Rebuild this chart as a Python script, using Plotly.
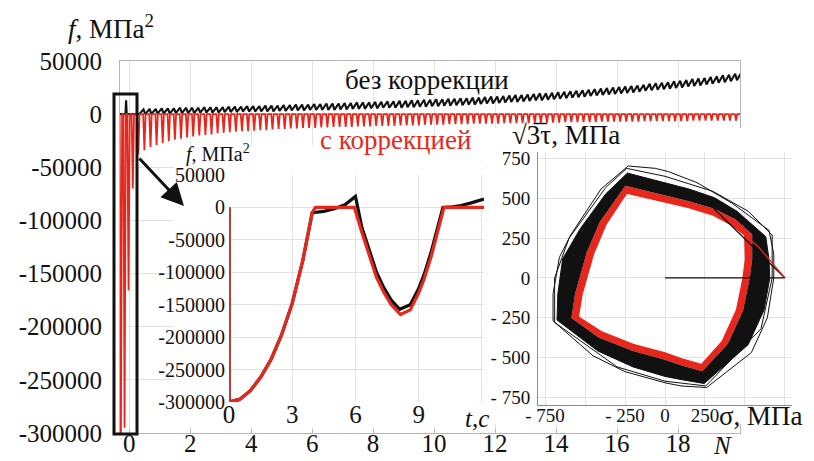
import plotly.graph_objects as go

W, H = 814, 461
FONT = "Liberation Serif, Times New Roman, serif"
BLACK = "#111111"
RED = "#e8271c"


def px_x(p):
    return p / W


def px_y(p):
    return 1 - p / H


# ---------------- main chart data (f vs N) ----------------
main_y_ticks = [50000, 0, -50000, -100000, -150000, -200000, -250000, -300000]
main_y_text = ["50000", "0", "-50000", "-100000", "-150000", "-200000", "-250000", "-300000"]
main_x_ticks = [0, 2, 4, 6, 8, 10, 12, 14, 16, 18]
main_x_text = ["0", "2", "4", "6", "8", "10", "12", "14", "16", "18"]

# first (framed) spikes of the corrected curve
first_spike_N = [-0.27, -0.15, -0.02, 0.12]
first_spike_f = [-300000, -295000, -166000, -70000]
# first part of the uncorrected curve
first_black_N = [-0.3, -0.12, -0.1, -0.08, 0.25]
first_black_f = [0, 0, 13000, 0, 0]

# one tooth per half-cycle
tooth_N = [round(0.3 + 0.2 * i, 1) for i in range(99)]
red_depth = [
    -38000, -34000, -31000, -29000, -27000, -25500, -24000, -23000, -22000, -21000,
    -20000, -19500, -19000, -18000, -17500, -17000, -16500, -16000, -16000, -15500,
    -15000, -15000, -14500, -14000, -14000, -13500, -13500, -13000, -13000, -13000,
    -12500, -12500, -12000, -12000, -12000, -12000, -11500, -11500, -11500, -11000,
    -11000, -11000, -11000, -10500, -10500, -10500, -10500, -10000, -10000, -10000,
    -10000, -9500, -9500, -9500, -9500, -9000, -9000, -9000, -9000, -9000,
    -8500, -8500, -8500, -8500, -8500, -8000, -8000, -8000, -8000, -8000,
    -7500, -7500, -7500, -7500, -7500, -7500, -7000, -7000, -7000, -7000,
    -7000, -7000, -7000, -6500, -6500, -6500, -6500, -6500, -6500, -6500,
    -6500, -6000, -6000, -6000, -6000, -6000, -6000, -6000, -6000,
]
black_peak = [
    4500, 5000, 5000, 5500, 5500, 5500, 6000, 6000, 6000, 6000,
    6500, 6500, 6500, 6500, 7000, 7000, 7000, 7500, 7500, 7500,
    8000, 8000, 8000, 8500, 8500, 9000, 9000, 9000, 9500, 9500,
    10000, 10000, 10000, 10500, 10500, 11000, 11000, 11000, 11500, 11500,
    12000, 12000, 12500, 12500, 13000, 13000, 13500, 13500, 14000, 14000,
    14500, 14500, 15000, 15000, 15500, 15500, 16000, 16500, 16500, 17000,
    17500, 18000, 18000, 18500, 19000, 19500, 19500, 20000, 20500, 21000,
    21500, 22000, 22500, 23000, 23500, 24000, 24500, 25000, 25500, 26000,
    26500, 27000, 27500, 28500, 29000, 29500, 30000, 31000, 31500, 32000,
    33000, 33500, 34000, 35000, 35500, 36500, 37000, 38000, 39000,
]
black_trough = [
    0, 0, 0, 500, 500, 500, 1000, 1000, 1000, 1000,
    1500, 1500, 1500, 1500, 2000, 2000, 2000, 2500, 2500, 2500,
    2500, 2500, 2500, 3000, 3000, 3500, 3500, 3500, 4000, 4000,
    4000, 4000, 4000, 4500, 4500, 5000, 5000, 5000, 5500, 5500,
    6000, 6000, 6000, 6000, 6500, 6500, 7000, 7000, 7500, 7500,
    8000, 8000, 8500, 8500, 9000, 9000, 9500, 10000, 10000, 10500,
    11000, 11500, 11500, 12000, 12500, 13000, 13000, 13500, 14000, 14500,
    15000, 15500, 16000, 16500, 17000, 17500, 18000, 18500, 19000, 19500,
    20000, 20500, 21000, 22000, 22500, 23000, 23500, 24000, 24500, 25000,
    26000, 26500, 27000, 28000, 28500, 29500, 30000, 31000, 32000,
]

# ---------------- inset 1 data (f vs t, first cycle) ----------------
t_red = [0, 0, 0.5, 1, 1.5, 2, 2.5, 3, 3.5, 3.95, 4.1, 5.95, 6.3, 6.7, 7.0, 7.35, 7.7,
         8.14, 8.6, 9.0, 9.25, 9.6, 9.9, 10.2, 12.1]
f_red = [0, -300000, -296000, -283000, -262000, -234000, -196000, -148000, -82000, -8000, 0, 0,
         -38000, -80000, -108000, -131000, -150000, -165000, -158000, -132000, -111000,
         -75000, -38000, 0, 0]
t_black = [0, 0, 0.5, 1, 1.5, 2, 2.5, 3, 3.5, 3.95, 4.5, 5.0, 5.5, 5.9, 6.0, 6.3, 6.7, 7.0,
           7.35, 7.7, 8.1, 8.6, 9.0, 9.25, 9.6, 9.9, 10.15, 10.6, 11.0, 11.5, 12.1]
f_black = [0, -300000, -296000, -283000, -262000, -234000, -196000, -148000, -82000, -8000,
           -6000, -2000, 4000, 14000, 17000, -30000, -72000, -100000, -124000, -143000,
           -157000, -150000, -125000, -104000, -68000, -32000, 0, 1000, 3000, 7000, 13000]
ins1_x_ticks = [0, 3, 6, 9]
ins1_x_text = ["0", "3", "6", "9"]
ins1_x_grid = [12]
ins1_y_ticks = [50000, 0, -50000, -100000, -150000, -200000, -250000, -300000]
ins1_y_text = ["50000", "0", "-50000", "-100000", "-150000", "-200000", "-250000", "-300000"]

# ---------------- inset 2 data (sqrt(3)tau vs sigma) ----------------
red_inner_sig = [-240, -100, 0, 150, 302, 420, 500, 505, 490, 450, 360, 229, 100, 0, -200, -400, -544, -520, -448, -370]
red_inner_tau = [537, 505, 481, 445, 397, 335, 271, 120, 0, -200, -400, -548, -510, -474, -420, -340, -246, -100, 155, 340]
black_inner_sig = [-248, -100, 0, 150, 308, 440, 545, 545, 530, 488, 393, 233, 100, 0, -200, -415, -585, -562, -490, -408]
black_inner_tau = [580, 545, 521, 483, 435, 370, 275, 120, 0, -205, -415, -588, -550, -515, -460, -375, -252, -100, 158, 352]
black_outer_sig = [-235, -100, 0, 150, 310, 450, 630, 650, 655, 620, 520, 245, 100, 0, -200, -420, -675, -670, -640, -530, -370]
black_outer_tau = [660, 625, 600, 560, 505, 420, 260, 120, 0, -200, -420, -665, -640, -620, -560, -460, -265, -100, 120, 310, 530]
loopA_sig = [-230, -60, 20, 200, 420, 650, 680, 680, 640, 540, 260, 100, 0, -250, -450, -700, -700, -660, -590, -400, -230]
loopA_tau = [705, 690, 670, 600, 470, 300, 150, 0, -250, -470, -690, -680, -660, -590, -490, -270, -100, 130, 270, 560, 705]
loopB_sig = [-240, 0, 300, 520, 670, 670, 600, 255, 0, -300, -690, -690, -600, -370, -240]
loopB_tau = [690, 640, 545, 420, 270, 0, -320, -680, -650, -560, -280, 0, 250, 570, 690]
init_black_sig = [0, 750, 302]
init_black_tau = [0, 0, 440]
init_red_sig = [750, 583, 500]
init_red_tau = [0, 197, 271]
ins2_x_ticks = [-750, -250, 0, 250]
ins2_x_text = ["- 750", "- 250", "0", "250"]
ins2_x_grid = [-500, 500, 750]
ins2_y_ticks = [-750, -500, -250, 0, 250, 500, 750]
ins2_y_text = ["- 750", "- 500", "- 250", "0", "250", "500", "750"]

# ---------------- build main traces ----------------
hw = 0.04
rx, ry = [-0.3], [0]
for n, d in zip(first_spike_N + tooth_N, first_spike_f + red_depth):
    rx += [n - hw, n, n + hw]
    ry += [0, d, 0]
rx.append(20.03)
ry.append(0)

bx, by = list(first_black_N), list(first_black_f)
for n, tr, pk in zip(tooth_N, black_trough, black_peak):
    bx += [n + 0.03, n + 0.17]
    by += [tr, pk]


def ring_with_hole(os, ot, is_, it):
    xs = list(os) + [os[0]] + list(is_[::-1]) + [is_[-1]]
    ys = list(ot) + [ot[0]] + list(it[::-1]) + [it[-1]]
    return xs, ys


fig = go.Figure()

fig.add_trace(go.Scatter(x=bx, y=by, mode="lines", line=dict(color=BLACK, width=2.1),
                         xaxis="x", yaxis="y", showlegend=False, hoverinfo="skip"))
fig.add_trace(go.Scatter(x=rx, y=ry, mode="lines", line=dict(color=RED, width=1.8),
                         xaxis="x", yaxis="y", showlegend=False, hoverinfo="skip"))

# dummy subplot used as white background of inset 1
fig.add_trace(go.Scatter(x=[None], y=[None], xaxis="x2", yaxis="y2", showlegend=False))

# inset 1
fig.add_trace(go.Scatter(x=t_black, y=f_black, mode="lines", line=dict(color=BLACK, width=3.2),
                         xaxis="x3", yaxis="y3", showlegend=False, hoverinfo="skip"))
fig.add_trace(go.Scatter(x=t_red, y=f_red, mode="lines", line=dict(color=RED, width=3.2),
                         xaxis="x3", yaxis="y3", showlegend=False, hoverinfo="skip"))

# dummy subplot used as white background of inset 2
fig.add_trace(go.Scatter(x=[None], y=[None], xaxis="x4", yaxis="y4", showlegend=False))

# inset 2
xs, ys = ring_with_hole(black_inner_sig, black_inner_tau, red_inner_sig, red_inner_tau)
fig.add_trace(go.Scatter(x=xs, y=ys, mode="lines", fill="toself", fillcolor=RED,
                         line=dict(width=0, color=RED), xaxis="x5", yaxis="y5",
                         showlegend=False, hoverinfo="skip"))
fig.add_trace(go.Scatter(x=red_inner_sig + [red_inner_sig[0]], y=red_inner_tau + [red_inner_tau[0]],
                         mode="lines", line=dict(color=RED, width=2), xaxis="x5", yaxis="y5",
                         showlegend=False, hoverinfo="skip"))
xs, ys = ring_with_hole(black_outer_sig, black_outer_tau, black_inner_sig, black_inner_tau)
fig.add_trace(go.Scatter(x=xs, y=ys, mode="lines", fill="toself", fillcolor=BLACK,
                         line=dict(width=0, color=BLACK), xaxis="x5", yaxis="y5",
                         showlegend=False, hoverinfo="skip"))
for sx, st in [(loopA_sig, loopA_tau), (loopB_sig, loopB_tau),
               (black_outer_sig + [black_outer_sig[0]], black_outer_tau + [black_outer_tau[0]])]:
    fig.add_trace(go.Scatter(x=sx, y=st, mode="lines", line=dict(color=BLACK, width=1),
                             xaxis="x5", yaxis="y5", showlegend=False, hoverinfo="skip"))
fig.add_trace(go.Scatter(x=init_black_sig, y=init_black_tau, mode="lines",
                         line=dict(color=BLACK, width=1.3), xaxis="x5", yaxis="y5",
                         showlegend=False, hoverinfo="skip"))
fig.add_trace(go.Scatter(x=init_red_sig, y=init_red_tau, mode="lines",
                         line=dict(color=RED, width=1.3), xaxis="x5", yaxis="y5",
                         showlegend=False, hoverinfo="skip"))

GRID = "#e2e2e2"
tick_main = dict(family=FONT, size=25, color=BLACK)
hidden = dict(visible=False, automargin=False, range=[0, 1], showgrid=False, zeroline=False)

fig.update_layout(
    template="none",
    width=W, height=H,
    margin=dict(l=0, r=0, t=0, b=0, pad=0, autoexpand=False),
    paper_bgcolor="white", plot_bgcolor="white",
    font=dict(family=FONT, color=BLACK),
    showlegend=False,
    hovermode=False,
    xaxis=dict(domain=[px_x(120), px_x(740)], range=[-0.3, 20.03], anchor="y", automargin=False,
               tickvals=main_x_ticks, ticktext=main_x_text, tickfont=tick_main,
               showgrid=True, gridcolor=GRID, gridwidth=1, zeroline=False,
               showline=True, mirror=True, linecolor="#b5b5b5", linewidth=1,
               ticks="inside", ticklen=4, tickcolor="#b5b5b5", ticklabelstandoff=-12),
    yaxis=dict(domain=[px_y(433), px_y(61)], range=[-300000, 50000], anchor="x", automargin=False,
               tickvals=main_y_ticks, ticktext=main_y_text, tickfont=tick_main,
               showgrid=True, gridcolor=GRID, gridwidth=1, zeroline=False,
               showline=True, mirror=True, linecolor="#b5b5b5", linewidth=1,
               ticks="", ticklabelstandoff=12),
    xaxis2=dict(domain=[px_x(174), px_x(487)], anchor="y2", **hidden),
    yaxis2=dict(domain=[px_y(428), px_y(145)], anchor="x2", **hidden),
    xaxis3=dict(domain=[px_x(229), px_x(484)], range=[0, 12.1], anchor="y3", automargin=False,
                tickvals=ins1_x_ticks, ticktext=ins1_x_text,
                tickfont=dict(family=FONT, size=25, color=BLACK),
                showgrid=True, gridcolor=GRID, gridwidth=1, zeroline=False, showline=False,
                minor=dict(tickvals=ins1_x_grid, showgrid=True, gridcolor=GRID, ticks=""),
                ticks="", ticklabelstandoff=-5),
    yaxis3=dict(domain=[px_y(402), px_y(175)], range=[-300000, 50000], anchor="x3", automargin=False,
                tickvals=ins1_y_ticks, ticktext=ins1_y_text,
                tickfont=dict(family=FONT, size=20, color=BLACK),
                showgrid=True, gridcolor=GRID, gridwidth=1, zeroline=False, showline=False,
                ticks="", ticklabelstandoff=3),
    xaxis4=dict(domain=[px_x(488), 1.0], anchor="y4", **hidden),
    yaxis4=dict(domain=[px_y(424), px_y(128)], anchor="x4", **hidden),
    xaxis5=dict(domain=[px_x(538), px_x(792)], range=[-794, 794], anchor="y5", automargin=False,
                tickvals=ins2_x_ticks, ticktext=ins2_x_text,
                tickfont=dict(family=FONT, size=19, color=BLACK),
                showgrid=True, gridcolor=GRID, gridwidth=1, zeroline=False,
                minor=dict(tickvals=ins2_x_grid, showgrid=True, gridcolor=GRID, ticks=""),
                showline=True, linecolor="#8a8a8a", linewidth=1,
                ticks="", ticklabelstandoff=-7),
    yaxis5=dict(domain=[px_y(405), px_y(152)], range=[-800, 793], anchor="x5", automargin=False,
                tickvals=ins2_y_ticks, ticktext=ins2_y_text,
                tickfont=dict(family=FONT, size=19, color=BLACK),
                showgrid=True, gridcolor=GRID, gridwidth=1, zeroline=False,
                showline=True, linecolor="#8a8a8a", linewidth=1,
                ticks="", ticklabelstandoff=3),
)


def note(text, x, y, size, color=BLACK, xanchor="center", yanchor="middle"):
    fig.add_annotation(text=text, x=px_x(x), y=px_y(y), xref="paper", yref="paper",
                       showarrow=False, xanchor=xanchor, yanchor=yanchor,
                       font=dict(family=FONT, size=size, color=color))


note("<i>f</i>, МПа<sup>2</sup>", 66, 27, 27, xanchor="left")
note("без коррекции", 427, 80, 27)
note("с коррекцией", 395, 140, 27, color=RED)
note("<i>N</i>", 722, 445, 25)
note("<i>f</i>, МПа<sup>2</sup>", 184, 153, 20, xanchor="left")
note("<i>t</i>,<i>c</i>", 477, 418, 25)
note("√3̅τ, МПа", 510, 135, 27, xanchor="left")
note("σ, МПа", 761, 416, 27)

# frame around the first cycles and arrow pointing to the zoomed inset
fig.add_shape(type="rect", xref="paper", yref="paper",
              x0=px_x(114), x1=px_x(137), y0=px_y(434), y1=px_y(94),
              line=dict(color=BLACK, width=3), layer="above")
fig.add_annotation(x=px_x(184), y=px_y(206), xref="paper", yref="paper",
                   ax=-46, ay=-49, axref="pixel", ayref="pixel", text="",
                   showarrow=True, arrowhead=2, arrowsize=1.5, arrowwidth=3,
                   arrowcolor=BLACK, standoff=0)

fig.write_html("out.html",
               config={"displayModeBar": False, "staticPlot": True},
               post_script="document.body.style.margin='0px';"
                           "document.body.style.overflow='hidden';")
